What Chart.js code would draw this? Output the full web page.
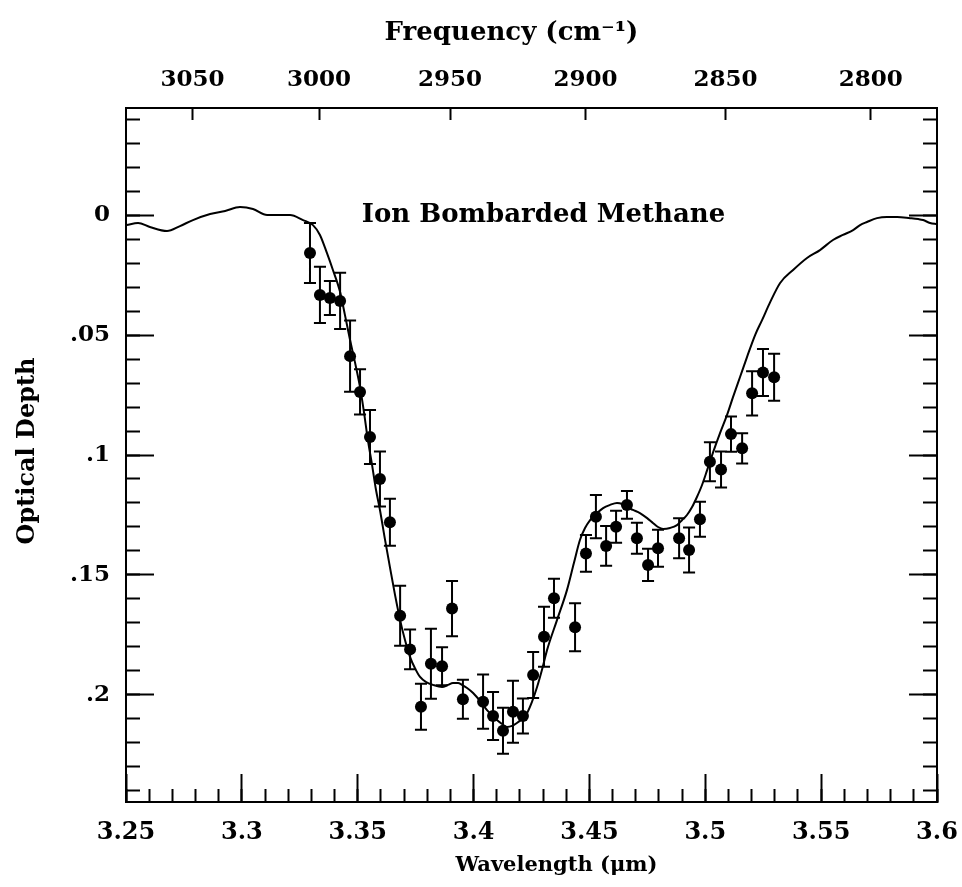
<!DOCTYPE html>
<html>
<head>
  <meta charset="UTF-8">
  <title>Ion Bombarded Methane</title>
  <script src="https://cdn.jsdelivr.net/npm/chart.js"></script>
  <style>
    body { margin: 0; background: #fff; }
  </style>
</head>
<body>
  <canvas id="depthChart" width="962" height="887"></canvas>

  <script>
    // lab spectrum (solid curve)
    const curveWl = [3.2503, 3.2552, 3.2603, 3.2677, 3.2733, 3.2789, 3.2863, 3.2928, 3.2992, 3.3048,
      3.3109, 3.3208, 3.3264, 3.3307, 3.3337, 3.3367, 3.3393, 3.3424, 3.3445, 3.3467,
      3.3488, 3.3510, 3.3527, 3.3544, 3.3562, 3.3579, 3.3596, 3.3618, 3.3639, 3.3661,
      3.3683, 3.3704, 3.3726, 3.3747, 3.3769, 3.3795, 3.3825, 3.3864, 3.3890, 3.3911,
      3.3933, 3.3950, 3.3972, 3.3998, 3.4028, 3.4058, 3.4101, 3.4123, 3.4144, 3.4166,
      3.4187, 3.4209, 3.4231, 3.4252, 3.4274, 3.4295, 3.4317, 3.4360, 3.4403, 3.4433,
      3.4459, 3.4481, 3.4503, 3.4533, 3.4559, 3.4589, 3.4619, 3.4641, 3.4662, 3.4688,
      3.4718, 3.4749, 3.4774, 3.4796, 3.4818, 3.4848, 3.4878, 3.4900, 3.4921, 3.4943,
      3.4964, 3.4986, 3.5008, 3.5034, 3.5064, 3.5094, 3.5120, 3.5150, 3.5180, 3.5215,
      3.5245, 3.5280, 3.5323, 3.5379, 3.5439, 3.5495, 3.5551, 3.5594, 3.5638, 3.5668,
      3.5698, 3.5741, 3.5784, 3.5828, 3.5884, 3.5919, 3.5940, 3.5970, 3.6000];
    const curveDepth = [0.0042, 0.0033, 0.0050, 0.0067, 0.0046, 0.0021, -0.0004, -0.0017, -0.0033, -0.0025,
      0.0000, 0.0000, 0.0021, 0.0042, 0.0083, 0.0158, 0.0229, 0.0321, 0.0417, 0.0521,
      0.0613, 0.0717, 0.0821, 0.0938, 0.1042, 0.1146, 0.1229, 0.1354, 0.1467, 0.1583,
      0.1688, 0.1771, 0.1842, 0.1888, 0.1925, 0.1946, 0.1958, 0.1967, 0.1958, 0.1950,
      0.1950, 0.1958, 0.1971, 0.1992, 0.2025, 0.2063, 0.2104, 0.2121, 0.2133, 0.2129,
      0.2117, 0.2100, 0.2075, 0.2029, 0.1967, 0.1896, 0.1813, 0.1688, 0.1563, 0.1450,
      0.1354, 0.1304, 0.1271, 0.1242, 0.1221, 0.1208, 0.1200, 0.1204, 0.1217, 0.1229,
      0.1242, 0.1263, 0.1283, 0.1300, 0.1308, 0.1304, 0.1292, 0.1271, 0.1250, 0.1217,
      0.1175, 0.1125, 0.1063, 0.0988, 0.0908, 0.0833, 0.0758, 0.0675, 0.0592, 0.0500,
      0.0438, 0.0363, 0.0283, 0.0229, 0.0179, 0.0146, 0.0104, 0.0083, 0.0063, 0.0042,
      0.0029, 0.0013, 0.0008, 0.0008, 0.0013, 0.0017, 0.0021, 0.0033, 0.0038];

    // observed points with 1-sigma errors
    const obsWl = [3.3294, 3.3337, 3.3380, 3.3424, 3.3467, 3.3510, 3.3553, 3.3596, 3.3639, 3.3683,
      3.3726, 3.3773, 3.3816, 3.3864, 3.3907, 3.3954, 3.4041, 3.4084, 3.4127, 3.4170,
      3.4213, 3.4257, 3.4304, 3.4347, 3.4438, 3.4485, 3.4528, 3.4572, 3.4615, 3.4662,
      3.4705, 3.4753, 3.4796, 3.4887, 3.4930, 3.4977, 3.5020, 3.5068, 3.5111, 3.5159,
      3.5202, 3.5249, 3.5297];
    const obsDepth = [0.0158, 0.0333, 0.0346, 0.0358, 0.0588, 0.0737, 0.0925, 0.1100, 0.1280, 0.1670,
      0.1810, 0.2049, 0.1870, 0.1880, 0.1640, 0.2018, 0.2028, 0.2088, 0.2149, 0.2070,
      0.2088, 0.1917, 0.1757, 0.1597, 0.1718, 0.1410, 0.1257, 0.1379, 0.1299, 0.1208,
      0.1347, 0.1458, 0.1389, 0.1347, 0.1396, 0.1268, 0.1028, 0.1060, 0.0913, 0.0972,
      0.0743, 0.0656, 0.0676];
    const obsErr = [0.0125, 0.0117, 0.0071, 0.0117, 0.0148, 0.0094, 0.0113, 0.0115, 0.0098, 0.0125,
      0.0083, 0.0096, 0.0146, 0.0079, 0.0115, 0.0081, 0.0113, 0.0100, 0.0096, 0.0129,
      0.0073, 0.0096, 0.0125, 0.0081, 0.0100, 0.0077, 0.0090, 0.0083, 0.0067, 0.0058,
      0.0065, 0.0067, 0.0077, 0.0083, 0.0094, 0.0073, 0.0081, 0.0075, 0.0073, 0.0063,
      0.0092, 0.0098, 0.0098];

    const freqTicks = [3050, 3000, 2950, 2900, 2850, 2800]; // cm^-1, top axis
    const noteText = 'Ion Bombarded Methane';
    const noteWl = 3.4302;
    const noteDepth = 0.0;
    const xTitle = 'Wavelength (μm)';
    const yTitle = 'Optical Depth';
    const topTitle = 'Frequency (cm⁻¹)';

    const capHalf = 0.0026; // half width of error bar caps, in micron

    const curvePts = curveWl.map((w, i) => ({ x: w, y: curveDepth[i] }));
    const obsPts = obsWl.map((w, i) => ({ x: w, y: obsDepth[i] }));
    const errPts = [];
    obsWl.forEach((w, i) => {
      const lo = obsDepth[i] - obsErr[i];
      const hi = obsDepth[i] + obsErr[i];
      errPts.push({ x: w, y: lo }, { x: w, y: hi }, { x: w, y: null });
      errPts.push({ x: w - capHalf, y: lo }, { x: w + capHalf, y: lo }, { x: w, y: null });
      errPts.push({ x: w - capHalf, y: hi }, { x: w + capHalf, y: hi }, { x: w, y: null });
    });

    const FONT = '"DejaVu Serif"';
    const tickFont = { family: 'DejaVu Serif', size: 23, weight: 'bold' };
    const xTickFont = { family: 'DejaVu Serif', size: 24, weight: 'bold' };
    const fmt = v => String(+v.toFixed(3)).replace(/^0\./, '.');

    // inline label + axis titles
    const textLayer = {
      id: 'textLayer',
      afterDraw(chart) {
        const { ctx, scales, chartArea: a } = chart;
        const mid = (a.left + a.right) / 2;
        ctx.save();
        ctx.fillStyle = '#000';
        ctx.textAlign = 'center';
        ctx.textBaseline = 'middle';

        ctx.font = 'bold 26px ' + FONT;
        ctx.fillText(noteText, scales.x.getPixelForValue(noteWl), scales.y.getPixelForValue(noteDepth));

        ctx.font = 'bold 21px ' + FONT;
        ctx.fillText(xTitle, mid + 25, a.bottom + 64);

        ctx.font = 'bold 26px ' + FONT;
        ctx.fillText(topTitle, mid - 20, a.top - 75);

        ctx.font = 'bold 24px ' + FONT;
        ctx.translate(28, (a.top + a.bottom) / 2 - 4);
        ctx.rotate(-Math.PI / 2);
        ctx.fillText(yTitle, 0, 0);
        ctx.restore();
      }
    };

    const wlMin = 3.25, wlMax = 3.6;
    const dMin = -0.0446, dMax = 0.2446;

    const hFit = h => s => { s.height = h; s.paddingLeft = 0; s.paddingRight = 0; };
    const vFit = w => s => { s.width = w; s.paddingTop = 0; s.paddingBottom = 0; };

    new Chart(document.getElementById('depthChart'), {
      type: 'scatter',
      data: {
        datasets: [
          {
            data: curvePts,
            showLine: true,
            borderColor: '#000',
            borderWidth: 2,
            pointRadius: 0,
            cubicInterpolationMode: 'monotone'
          },
          {
            data: errPts,
            showLine: true,
            spanGaps: false,
            borderColor: '#000',
            borderWidth: 2,
            pointRadius: 0
          },
          {
            data: obsPts,
            pointRadius: 6,
            pointBackgroundColor: '#000',
            pointBorderWidth: 0
          }
        ]
      },
      options: {
        responsive: false,
        animation: false,
        layout: { padding: 0 },
        plugins: {
          legend: { display: false },
          tooltip: { enabled: false }
        },
        scales: {
          x: {
            type: 'linear', position: 'bottom', weight: 1,
            min: wlMin, max: wlMax,
            ticks: { stepSize: 0.05, maxTicksLimit: 100, includeBounds: false, autoSkip: false, maxRotation: 0,
              font: xTickFont, color: '#000', padding: 44, callback: v => fmt(v) },
            grid: { drawOnChartArea: false, tickLength: -28, tickWidth: 2, color: '#000' },
            border: { color: '#000', width: 2 },
            afterFit: hFit(85)
          },
          xm: {
            type: 'linear', position: 'bottom', weight: 0,
            min: wlMin, max: wlMax,
            ticks: { display: false, stepSize: 0.01, maxTicksLimit: 100, includeBounds: false },
            grid: { drawOnChartArea: false, tickLength: -13, tickWidth: 2, color: '#000' },
            border: { display: false },
            afterFit: hFit(0)
          },
          xt: {
            type: 'linear', position: 'top', weight: 1,
            min: wlMin, max: wlMax,
            afterBuildTicks: s => { s.ticks = freqTicks.map(f => ({ value: 1e4 / f })); },
            ticks: { autoSkip: false, maxRotation: 0, font: tickFont, color: '#000', padding: 26,
              callback: v => String(Math.round(1e4 / v)) },
            grid: { drawOnChartArea: false, tickLength: -12, tickWidth: 2, color: '#000' },
            border: { color: '#000', width: 2 },
            afterFit: hFit(108)
          },
          y: {
            type: 'linear', position: 'left', weight: 1, reverse: true,
            min: dMin, max: dMax,
            ticks: { stepSize: 0.05, maxTicksLimit: 100, includeBounds: false, autoSkip: false,
              font: tickFont, color: '#000', padding: 44, callback: v => fmt(v) },
            grid: { drawOnChartArea: false, tickLength: -28, tickWidth: 2, color: '#000' },
            border: { color: '#000', width: 2 },
            afterFit: vFit(126)
          },
          ym: {
            type: 'linear', position: 'left', weight: 0, reverse: true,
            min: dMin, max: dMax,
            ticks: { display: false, stepSize: 0.01, maxTicksLimit: 100, includeBounds: false },
            grid: { drawOnChartArea: false, tickLength: -14, tickWidth: 2, color: '#000' },
            border: { display: false },
            afterFit: vFit(0)
          },
          y2: {
            type: 'linear', position: 'right', weight: 1, reverse: true,
            min: dMin, max: dMax,
            ticks: { display: false, stepSize: 0.05, maxTicksLimit: 100, includeBounds: false },
            grid: { drawOnChartArea: false, tickLength: -28, tickWidth: 2, color: '#000' },
            border: { color: '#000', width: 2 },
            afterFit: vFit(25)
          },
          y2m: {
            type: 'linear', position: 'right', weight: 0, reverse: true,
            min: dMin, max: dMax,
            ticks: { display: false, stepSize: 0.01, maxTicksLimit: 100, includeBounds: false },
            grid: { drawOnChartArea: false, tickLength: -14, tickWidth: 2, color: '#000' },
            border: { display: false },
            afterFit: vFit(0)
          }
        }
      },
      plugins: [textLayer]
    });
  </script>
</body>
</html>
